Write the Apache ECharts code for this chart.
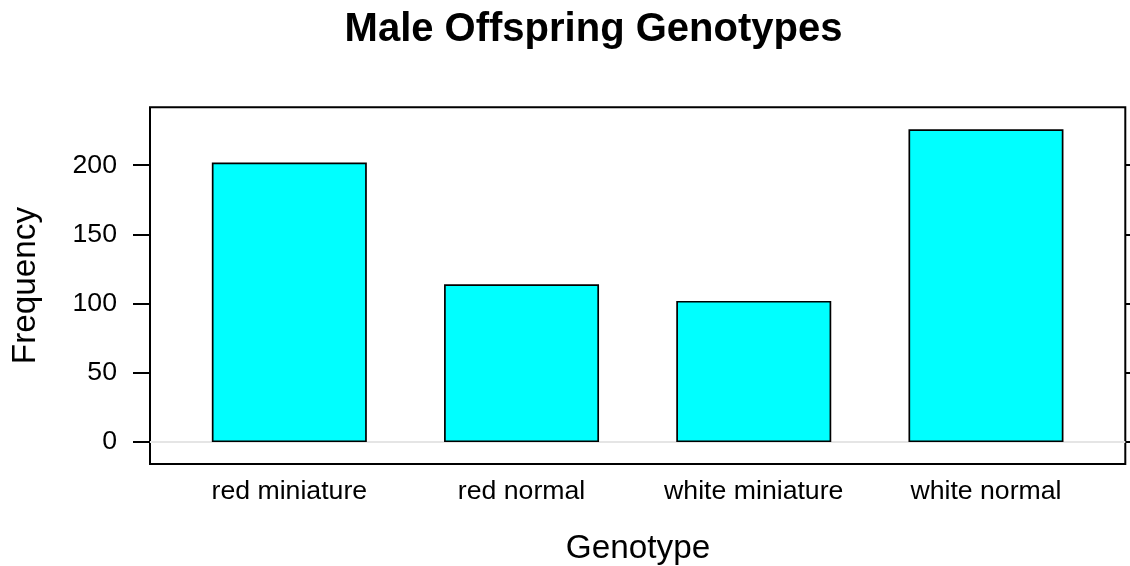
<!DOCTYPE html>
<html>
<head>
    <meta charset="utf-8">
    <title>Male Offspring Genotypes</title>
    <script src="https://cdn.jsdelivr.net/npm/echarts@6/dist/echarts.min.js"></script>
</head>
<body style="margin:0;">
<div id="main" style="width:1130px;height:566px;"></div>

<script type="text/javascript">
    // categories and counts
    var genotypes = ['red miniature', 'red normal', 'white miniature', 'white normal'];
    var frequency = [202, 114, 102, 226];
    var yTicks = [0, 50, 100, 150, 200];
    var xPositions = [1, 2, 3, 4];

    var font = 'Liberation Sans, Arial, Helvetica, sans-serif';

    var barData = [];
    for (var i = 0; i < genotypes.length; i++) {
        barData.push([xPositions[i], frequency[i]]);
    }

    var option = {
        animation: false,
        backgroundColor: '#fff',
        graphic: [
            {
                type: 'text', x: 593.5, y: 30,
                style: {text: 'Male Offspring Genotypes', font: 'bold 40px ' + font,
                    fill: '#000', textAlign: 'center', textVerticalAlign: 'middle'}
            },
            {
                type: 'text', x: 638, y: 549,
                style: {text: 'Genotype', font: '33.3px ' + font,
                    fill: '#000', textAlign: 'center', textVerticalAlign: 'middle'}
            },
            {
                type: 'text', x: 26, y: 285.5, rotation: Math.PI / 2,
                style: {text: 'Frequency', font: '33.3px ' + font,
                    fill: '#000', textAlign: 'center', textVerticalAlign: 'middle'}
            }
        ],
        grid: {
            left: 150, right: 4.7, top: 107.3, bottom: 102,
            show: true, borderColor: '#000', borderWidth: 2,
            containLabel: false
        },
        xAxis: {
            type: 'value',
            min: 0.4,
            max: 4.6,
            axisLine: {show: false},
            axisTick: {show: false},
            splitLine: {show: false},
            axisLabel: {
                customValues: xPositions,
                margin: 14,
                color: '#000',
                fontSize: 26.67,
                fontFamily: font,
                formatter: function (v) {
                    return genotypes[Math.round(v) - 1];
                }
            }
        },
        yAxis: [
            {
                type: 'value',
                min: -15.82,
                max: 241.82,
                axisLine: {show: false},
                splitLine: {show: false},
                axisTick: {
                    show: true, customValues: yTicks, length: 17,
                    lineStyle: {color: '#000', width: 2}
                },
                axisLabel: {
                    customValues: yTicks,
                    margin: 33,
                    color: '#000',
                    fontSize: 26.67,
                    fontFamily: font
                }
            },
            {
                type: 'value',
                position: 'right',
                min: -15.82,
                max: 241.82,
                axisLine: {show: false},
                splitLine: {show: false},
                axisTick: {
                    show: true, customValues: yTicks, length: 17,
                    lineStyle: {color: '#000', width: 2}
                },
                axisLabel: {show: false}
            }
        ],
        series: [{
            type: 'bar',
            data: barData,
            barWidth: 155,
            itemStyle: {color: '#00ffff', borderColor: '#000', borderWidth: 1.7},
            markLine: {
                silent: true,
                symbol: 'none',
                label: {show: false},
                lineStyle: {color: '#e5e5e5', width: 2, type: 'solid'},
                data: [{yAxis: 0}],
                z: 1
            },
            z: 3
        }]
    };

    var myChart = echarts.init(document.getElementById('main'));
    myChart.setOption(option);
</script>
</body>
</html>
